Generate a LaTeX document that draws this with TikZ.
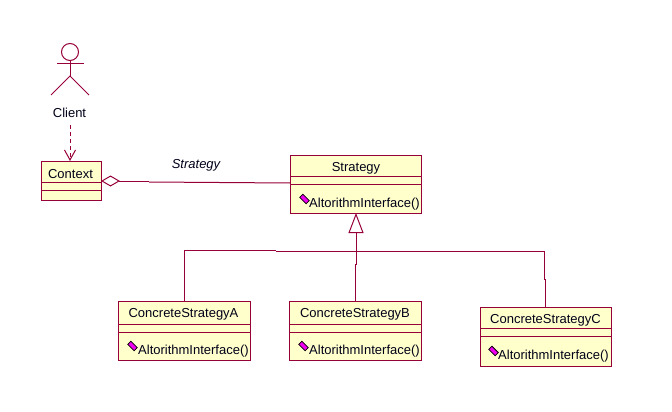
\documentclass[tikz,border=0pt]{standalone}
\usepackage{fontspec}
\setmainfont{Liberation Sans}
\usetikzlibrary{arrows.meta,calc}
\definecolor{umlline}{HTML}{970038}
\definecolor{umlfill}{HTML}{FFFFCB}
\definecolor{umlicon}{HTML}{F000F0}
\tikzset{
  classbox/.style={draw=umlline,fill=umlfill,line width=1pt,inner sep=0pt,outer sep=0pt},
  umltext/.style={inner sep=0pt,font=\fontsize{13}{15}\selectfont,text=black!90!blue},
  methodicon/.style={draw=black,fill=umlicon,line width=0.8pt,rotate=-45,inner sep=0pt,outer sep=0pt,minimum width=9pt,minimum height=4.5pt},
  umlconn/.style={draw=umlline,line width=1pt}
}
\begin{document}
\begin{tikzpicture}[x=1pt,y=-1pt]
      \useasboundingbox (0,0) rectangle (672,412);
      % class boxes
      \foreach \boxname/\cx/\cy/\bw/\bh/\divone/\divtwo in {context/71/180.5/60/39/21/29, strategy/355.5/184/131/58/21/29, strategyA/184/330.5/132/59/23/31, strategyB/355/330.5/132/59/23/31, strategyC/545.5/336.5/131/59/21/29} {
        \node[classbox,minimum width=\bw pt,minimum height=\bh pt] (\boxname) at (\cx,\cy) {};
        \draw[umlconn] ($(\boxname.north west)+(0,\divone)$) -- ($(\boxname.north east)+(0,\divone)$);
        \draw[umlconn] ($(\boxname.north west)+(0,\divtwo)$) -- ($(\boxname.north east)+(0,\divtwo)$);
      }
      % class names
      \node[umltext] (contextName) at (70.5,174) {Context};
      \node[umltext] (strategyName) at (356,168) {Strategy};
      \node[umltext] (strategyAName) at (183.5,314.5) {ConcreteStrategyA};
      \node[umltext] (strategyBName) at (355,314.5) {ConcreteStrategyB};
      \node[umltext] (strategyCName) at (545.5,320) {ConcreteStrategyC};
      % operations
      \foreach \boxname/\ix/\iy/\tx/\ty in {strategy/304.5/199/309/204, strategyA/132.5/346/138/351, strategyB/303.5/346/309/351, strategyC/493.5/351/498/356} {
        \node[methodicon] (\boxname Icon) at (\ix,\iy) {};
        \node[umltext,anchor=west] (\boxname Method) at (\tx,\ty) {AltorithmInterface()};
      }
      % actor
      \node[circle,draw=umlline,line width=1pt,fill=white,minimum size=17pt,inner sep=0pt,outer sep=0pt] (clientHead) at (70,52) {};
      \coordinate (clientHip) at (70,76);
      \coordinate (armLeft) at (57,64);
      \coordinate (armRight) at (84,64);
      \coordinate (legLeft) at (51,95);
      \coordinate (legRight) at (89,95);
      \draw[umlconn] (clientHead) -- (clientHip);
      \draw[umlconn] (armLeft) -- (armRight);
      \draw[umlconn] (legLeft) -- (clientHip) -- (legRight);
      \node[umltext] (client) at (69.5,113) {Client};
      % relations
      \draw[umlconn,dashed,dash pattern=on 4pt off 3pt,-{Straight Barb[length=10pt,width=11pt,line width=1pt]}] (client.south) ++(0.5,7) coordinate (clientOut) -- (70,161);
      \coordinate (aggBend) at (149,181);
      \coordinate (aggBend2) at (149,182);
      \draw[umlconn,{Diamond[open,length=19pt,width=11pt,line width=1pt]}-] (context.east |- 0,181) -- (aggBend);
      \draw[umlconn] (aggBend2) -- (strategy.west |- 0,183);
      \node[umltext,font=\fontsize{13}{15}\selectfont\itshape] (aggLabel) at (196,165) {Strategy};
      % generalisation
      \coordinate (busA) at (184,250);
      \coordinate (busMid) at (276,250);
      \coordinate (busMid2) at (276,251);
      \coordinate (busC) at (544,251);
      \coordinate (busJoin) at (356,251);
      \coordinate (busDrop) at (355,301);
      \draw[umlconn] (strategyA.north -| busA) -- (busA) -- (busMid);
      \draw[umlconn] (busMid2) -- (busC) -- (544,279) -- (545,279) -- (strategyC.north -| 545,0);
      \draw[umlconn] (busJoin) -- (356,264) -- (355,264) -- (strategyB.north -| busDrop);
      \draw[umlconn,-{Triangle[open,length=20pt,width=15pt,line width=1pt]}] (busJoin) -- (strategy.south -| busJoin);
    \end{tikzpicture}
\end{document}
